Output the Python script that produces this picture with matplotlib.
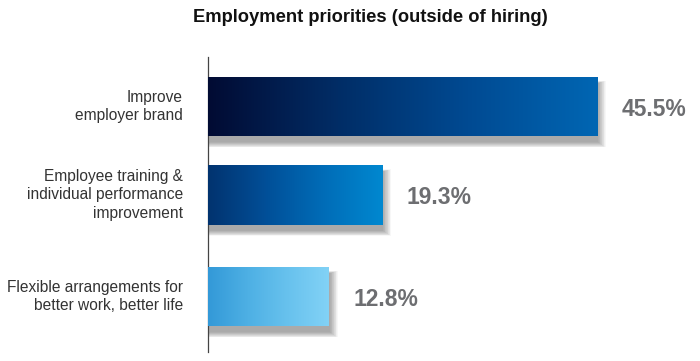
import numpy as np
import matplotlib
matplotlib.use("Agg")
import matplotlib.pyplot as plt
from matplotlib.colors import LinearSegmentedColormap
from matplotlib.patches import Rectangle

# ---- data ----
categories = ["Improve\nemployer brand",
              "Employee training &\nindividual performance\nimprovement",
              "Flexible arrangements for\nbetter work, better life"]
values = [45.5, 19.3, 12.8]
value_labels = ["45.5%", "19.3%", "12.8%"]
title = "Employment priorities (outside of hiring)"

# ---- style / layout ----
ypos = [0.0, 1.0, 2.147]
bar_h = 0.667
base = -1.95          # bars start slightly left of zero (axis offset)
grad_colors = [
    ["#020b33", "#012d66", "#004a92", "#0066b3"],
    ["#02336f", "#014f98", "#006db8", "#0088d0"],
    ["#3399d8", "#4eb0e4", "#68c2ee", "#82d2f6"],
]

plt.rcParams['font.family'] = ['Liberation Sans', 'DejaVu Sans']
fig = plt.figure(figsize=(7.0, 3.61), dpi=100)
W, H = 700, 361
ax_left, ax_top, ax_bot = 208, 57, 352
ax = fig.add_axes([ax_left / W, 1 - ax_bot / H, (W - ax_left) / W, (ax_bot - ax_top) / H])

px_per_unit = 8.2
xmax = base + (W - ax_left) / px_per_unit
unit_px = 88.5
ytop = -(106.5 - ax_top) / unit_px
ybot = ytop + (ax_bot - ax_top) / unit_px

gx = np.linspace(0, 1, 256).reshape(1, -1)
for i, (y, v) in enumerate(zip(ypos, values)):
    x0, x1 = base, v
    y0, y1 = y - bar_h / 2, y + bar_h / 2
    # soft shadow (mostly below the bar)
    n = 12
    for k in range(n):
        e = k / (n - 1)
        dx = 0.15 + e * 0.9
        dy = e * 0.085
        ax.add_patch(Rectangle((x0 + 0.4 - dx, y0 + 0.07 - dy * 0.3),
                               (x1 - x0) + 2 * dx - 0.4, bar_h + dy,
                               facecolor="#000000", alpha=0.03, edgecolor="none",
                               zorder=1))
    bar = ax.barh(y, v - base, left=base, height=bar_h, color="none", zorder=2)[0]
    cmap = LinearSegmentedColormap.from_list(f"g{i}", grad_colors[i])
    im = ax.imshow(gx, cmap=cmap, extent=(x0, x1, y1, y0), aspect="auto",
                   zorder=3, interpolation="bicubic")
    im.set_clip_path(bar)
    ax.text(v + 3.0, y + 0.03, value_labels[i], ha="left", va="center",
            fontsize=16.5, fontweight="bold", color="#6d6e71")
    ax.text(-(ax_left - 183) / px_per_unit + base, y, categories[i],
            ha="right", va="center", fontsize=11.2, color="#333333",
            linespacing=1.32)

ax.set_xlim(base, xmax)
ax.set_ylim(ybot, ytop)
for s in ["top", "right", "bottom"]:
    ax.spines[s].set_visible(False)
ax.spines["left"].set_color("#444444")
ax.spines["left"].set_linewidth(0.9)
ax.set_xticks([])
ax.set_yticks([])
ax.patch.set_alpha(0)

fig.text(370 / W, 1 - 18 / H, title, ha="center", va="center",
         fontsize=13.2, fontweight="bold", color="#111111")

fig.savefig("out.png", dpi=100)
